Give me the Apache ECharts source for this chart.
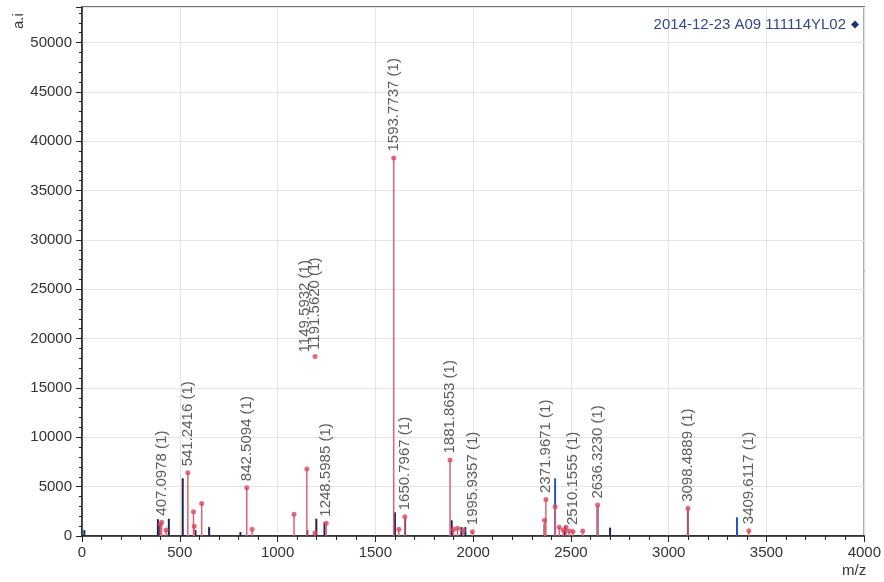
<!DOCTYPE html>
<html>
<head>
<meta charset="utf-8">
<script src="https://cdn.jsdelivr.net/npm/echarts@6/dist/echarts.min.js"></script>
<style>html,body{margin:0;padding:0;background:#fff}#c{width:884px;height:582px}</style>
</head>
<body>
<div id="c"></div>
<script>
// ---- data ----
const sampleName = '2014-12-23 A09 111114YL02';
const xTicks = [0, 500, 1000, 1500, 2000, 2500, 3000, 3500, 4000];
const yTicks = [0, 5000, 10000, 15000, 20000, 25000, 30000, 35000, 40000, 45000, 50000];

// dark (navy) peaks
const darkMz  = [12, 388, 398, 444, 515, 580, 650, 810, 1152, 1198, 1240, 1600, 1652, 1890, 1940, 1960, 2365, 2470, 2636, 2700, 3098];
const darkInt = [600, 1700, 1200, 1750, 5850, 600, 900, 400, 600, 1750, 1400, 2400, 1800, 1600, 900, 900, 1200, 1000, 3000, 850, 2700];

// blue peaks
const blueMz  = [2419, 3349];
const blueInt = [5840, 1900];

// unlabeled red peaks
const redMz  = [400, 430, 570, 574, 612, 870, 1084, 1191, 1620, 1900, 1920, 1950, 2365, 2419, 2440, 2460, 2475, 2490, 2560];
const redInt = [1200, 600, 2450, 1000, 3300, 680, 2200, 300, 680, 680, 780, 600, 1600, 2970, 880, 600, 880, 500, 500];

// labeled red peaks
const labMz  = [407.0978, 541.2416, 842.5094, 1149.5932, 1248.5985, 1593.7737, 1650.7967, 1881.8653, 1995.9357, 2371.9671, 2510.1555, 2636.3230, 3098.4889, 3409.6117];
const labInt = [1400, 6400, 4900, 6800, 1300, 38300, 1950, 7700, 440, 3700, 450, 3130, 2800, 540];
const labText = ['407.0978 (1)', '541.2416 (1)', '842.5094 (1)', '1149.5932 (1)', '1248.5985 (1)', '1593.7737 (1)', '1650.7967 (1)', '1881.8653 (1)', '1995.9357 (1)', '2371.9671 (1)', '2510.1555 (1)', '2636.3230 (1)', '3098.4889 (1)', '3409.6117 (1)'];

// floating annotation (marker without stem)
const floatMz  = [1191.5620];
const floatInt = [18200];
const floatText = ['1191.5620 (1)'];

// ---- chart ----
const FONT = '"Liberation Sans", Arial, sans-serif';
const RED = '#D9465F', RED_STEM = '#DE6275', DARK = '#1C2450', BLUE = '#1F56D0';

function stems(name, mz, inten, color, width, z) {
  return {
    type: 'custom', name: name, z: z, silent: true,
    data: mz.map((m, i) => [m, inten[i]]),
    encode: { x: 0, y: 1 },
    renderItem: function (params, api) {
      const p0 = api.coord([api.value(0), 0]);
      const p1 = api.coord([api.value(0), api.value(1)]);
      return { type: 'line', shape: { x1: p0[0], y1: p0[1], x2: p1[0], y2: p1[1] },
               style: { stroke: color, lineWidth: width } };
    }
  };
}

const labelStyle = {
  show: true, position: 'top', rotate: 90, align: 'left', verticalAlign: 'middle',
  distance: 4, fontSize: 15, fontFamily: FONT, color: '#333'
};

const labData = labMz.map((m, i) => {
  const d = { value: [m, labInt[i]], label: { formatter: labText[i] } };
  if (labText[i] === '1149.5932 (1)') d.label.offset = [110, -2];
  return d;
});
const floatData = floatMz.map((m, i) => ({ value: [m, floatInt[i]], label: { formatter: floatText[i] } }));

const chart = echarts.init(document.getElementById('c'), null, { renderer: 'canvas' });
chart.setOption({
  animation: false,
  textStyle: { fontFamily: FONT },
  grid: { left: 82, right: 16, top: 7, bottom: 46, show: true, borderColor: '#444', borderWidth: 1.5 },
  legend: {
    right: 20, top: 12, align: 'right', icon: 'diamond', itemWidth: 8, itemHeight: 8, itemGap: 6,
    textStyle: { fontSize: 15, color: '#2D4A8A', fontFamily: FONT },
    data: [{ name: sampleName, itemStyle: { color: '#1F2F7A' } }]
  },
  xAxis: {
    type: 'value', min: xTicks[0], max: xTicks[xTicks.length - 1], interval: 500,
    axisLine: { lineStyle: { color: '#222', width: 1.5 } },
    axisTick: { show: true, length: 6, lineStyle: { color: '#222' } },
    minorTick: { show: true, splitNumber: 5, length: 4, lineStyle: { color: '#222' } },
    splitLine: { show: true, lineStyle: { color: '#E4E4E4' } },
    axisLabel: { fontSize: 15, color: '#333', margin: 9, fontFamily: FONT, formatter: v => String(v) }
  },
  yAxis: {
    type: 'value', min: 0, max: 53600, interval: 5000,
    axisLine: { show: true, lineStyle: { color: '#222', width: 1.5 } },
    axisTick: { show: true, length: 6, lineStyle: { color: '#222' } },
    minorTick: { show: true, splitNumber: 5, length: 3, lineStyle: { color: '#222' } },
    splitLine: { show: true, lineStyle: { color: '#E4E4E4' } },
    axisLabel: { fontSize: 15, color: '#333', margin: 10, fontFamily: FONT, showMaxLabel: false,
      formatter: v => (yTicks.indexOf(v) >= 0 ? String(v) : '') }
  },
  graphic: [
    { type: 'text', x: 11, y: 29, rotation: Math.PI / 2,
      style: { text: 'a.i', font: '15px ' + FONT, fill: '#333', textVerticalAlign: 'top' } },
    { type: 'text', left: 842, top: 563,
      style: { text: 'm/z', font: '15px ' + FONT, fill: '#333' } }
  ],
  series: [
    stems(sampleName, darkMz, darkInt, DARK, 2, 3),
    stems('blue', blueMz, blueInt, BLUE, 2, 3),
    stems('red', redMz, redInt, RED_STEM, 1.5, 4),
    stems('lab', labMz, labInt, RED_STEM, 1.5, 4),
    { type: 'scatter', name: 'redm', symbol: 'circle', symbolSize: 5, z: 5, silent: true,
      itemStyle: { color: RED }, data: redMz.map((m, i) => [m, redInt[i]]) },
    { type: 'scatter', name: 'labm', symbol: 'circle', symbolSize: 5, z: 5, silent: true,
      itemStyle: { color: RED }, label: labelStyle, data: labData },
    { type: 'scatter', name: 'floatm', symbol: 'circle', symbolSize: 5, z: 5, silent: true,
      itemStyle: { color: RED }, label: labelStyle, data: floatData }
  ]
});
</script>
</body>
</html>
